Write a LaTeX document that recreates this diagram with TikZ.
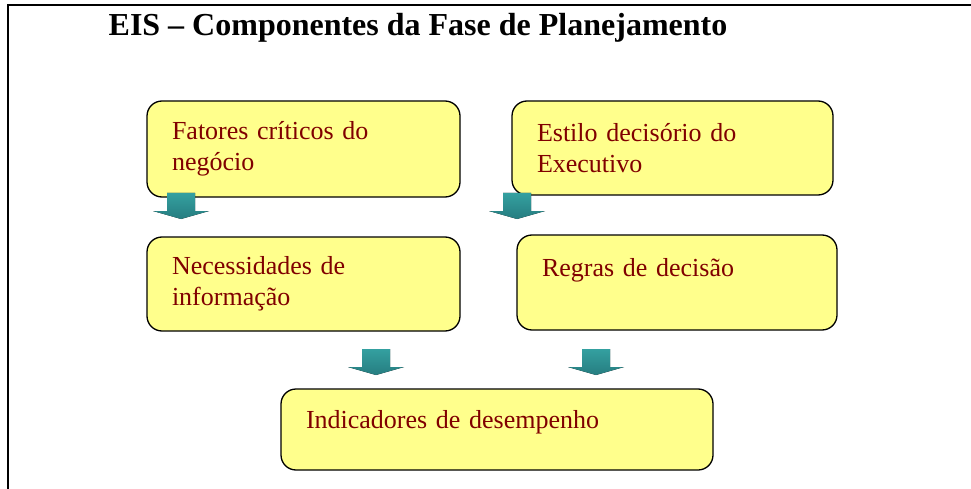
\documentclass[tikz,border=0pt]{standalone}
\usepackage{fontspec}
\setmainfont{Liberation Serif}
\definecolor{boxyellow}{RGB}{255,255,140}
\definecolor{textred}{RGB}{128,0,0}
\definecolor{tealtop}{RGB}{52,160,160}
\definecolor{tealbottom}{RGB}{38,125,128}
\begin{document}
\begin{tikzpicture}[x=1pt, y=-1pt,
    box/.style={draw, line width=1.3pt, rounded corners=15pt, fill=boxyellow, text=textred, align=left, inner xsep=25pt, inner ysep=0pt, font=\fontsize{26}{31}\selectfont},
    blockarrow/.pic={\fill[top color=tealtop, bottom color=tealbottom] (-14,0) -- (14,0) -- (14,18) -- (28,18) -- (0,26) -- (-28,18) -- (-14,18) -- cycle;}]
    \useasboundingbox (0,0) rectangle (971,489);
    \draw[line width=2.2pt] (8,489) -- (8,5) -- (971,5);
    \node (title) at (418,28) {\fontsize{32}{38}\selectfont\bfseries EIS – Componentes da Fase de Planejamento};
    % caixas
    \node[box, text width=263pt, minimum height=96pt] (fatores) at (303.5,149) {Fatores críticos do\\negócio};
    \node[box, text width=271pt, minimum height=94pt] (estilo) at (672.5,148) {Estilo decisório do\\Executivo};
    \node[box, text width=263pt, minimum height=94pt] (necessidades) at (303.5,284) {Necessidades de\\informação};
    \node[box, text width=270pt, minimum height=95pt] (regras) at (677,282.5) {Regras de decisão\\~};
    \node[box, text width=382pt, minimum height=81pt] (indicadores) at (497,429.5) {Indicadores de desempenho\\[-10pt]~};
    % setas
    \pic at (181,193) {blockarrow};
    \pic at (517,193) {blockarrow};
    \pic at (376,349) {blockarrow};
    \pic at (596,349) {blockarrow};
\end{tikzpicture}
\end{document}
